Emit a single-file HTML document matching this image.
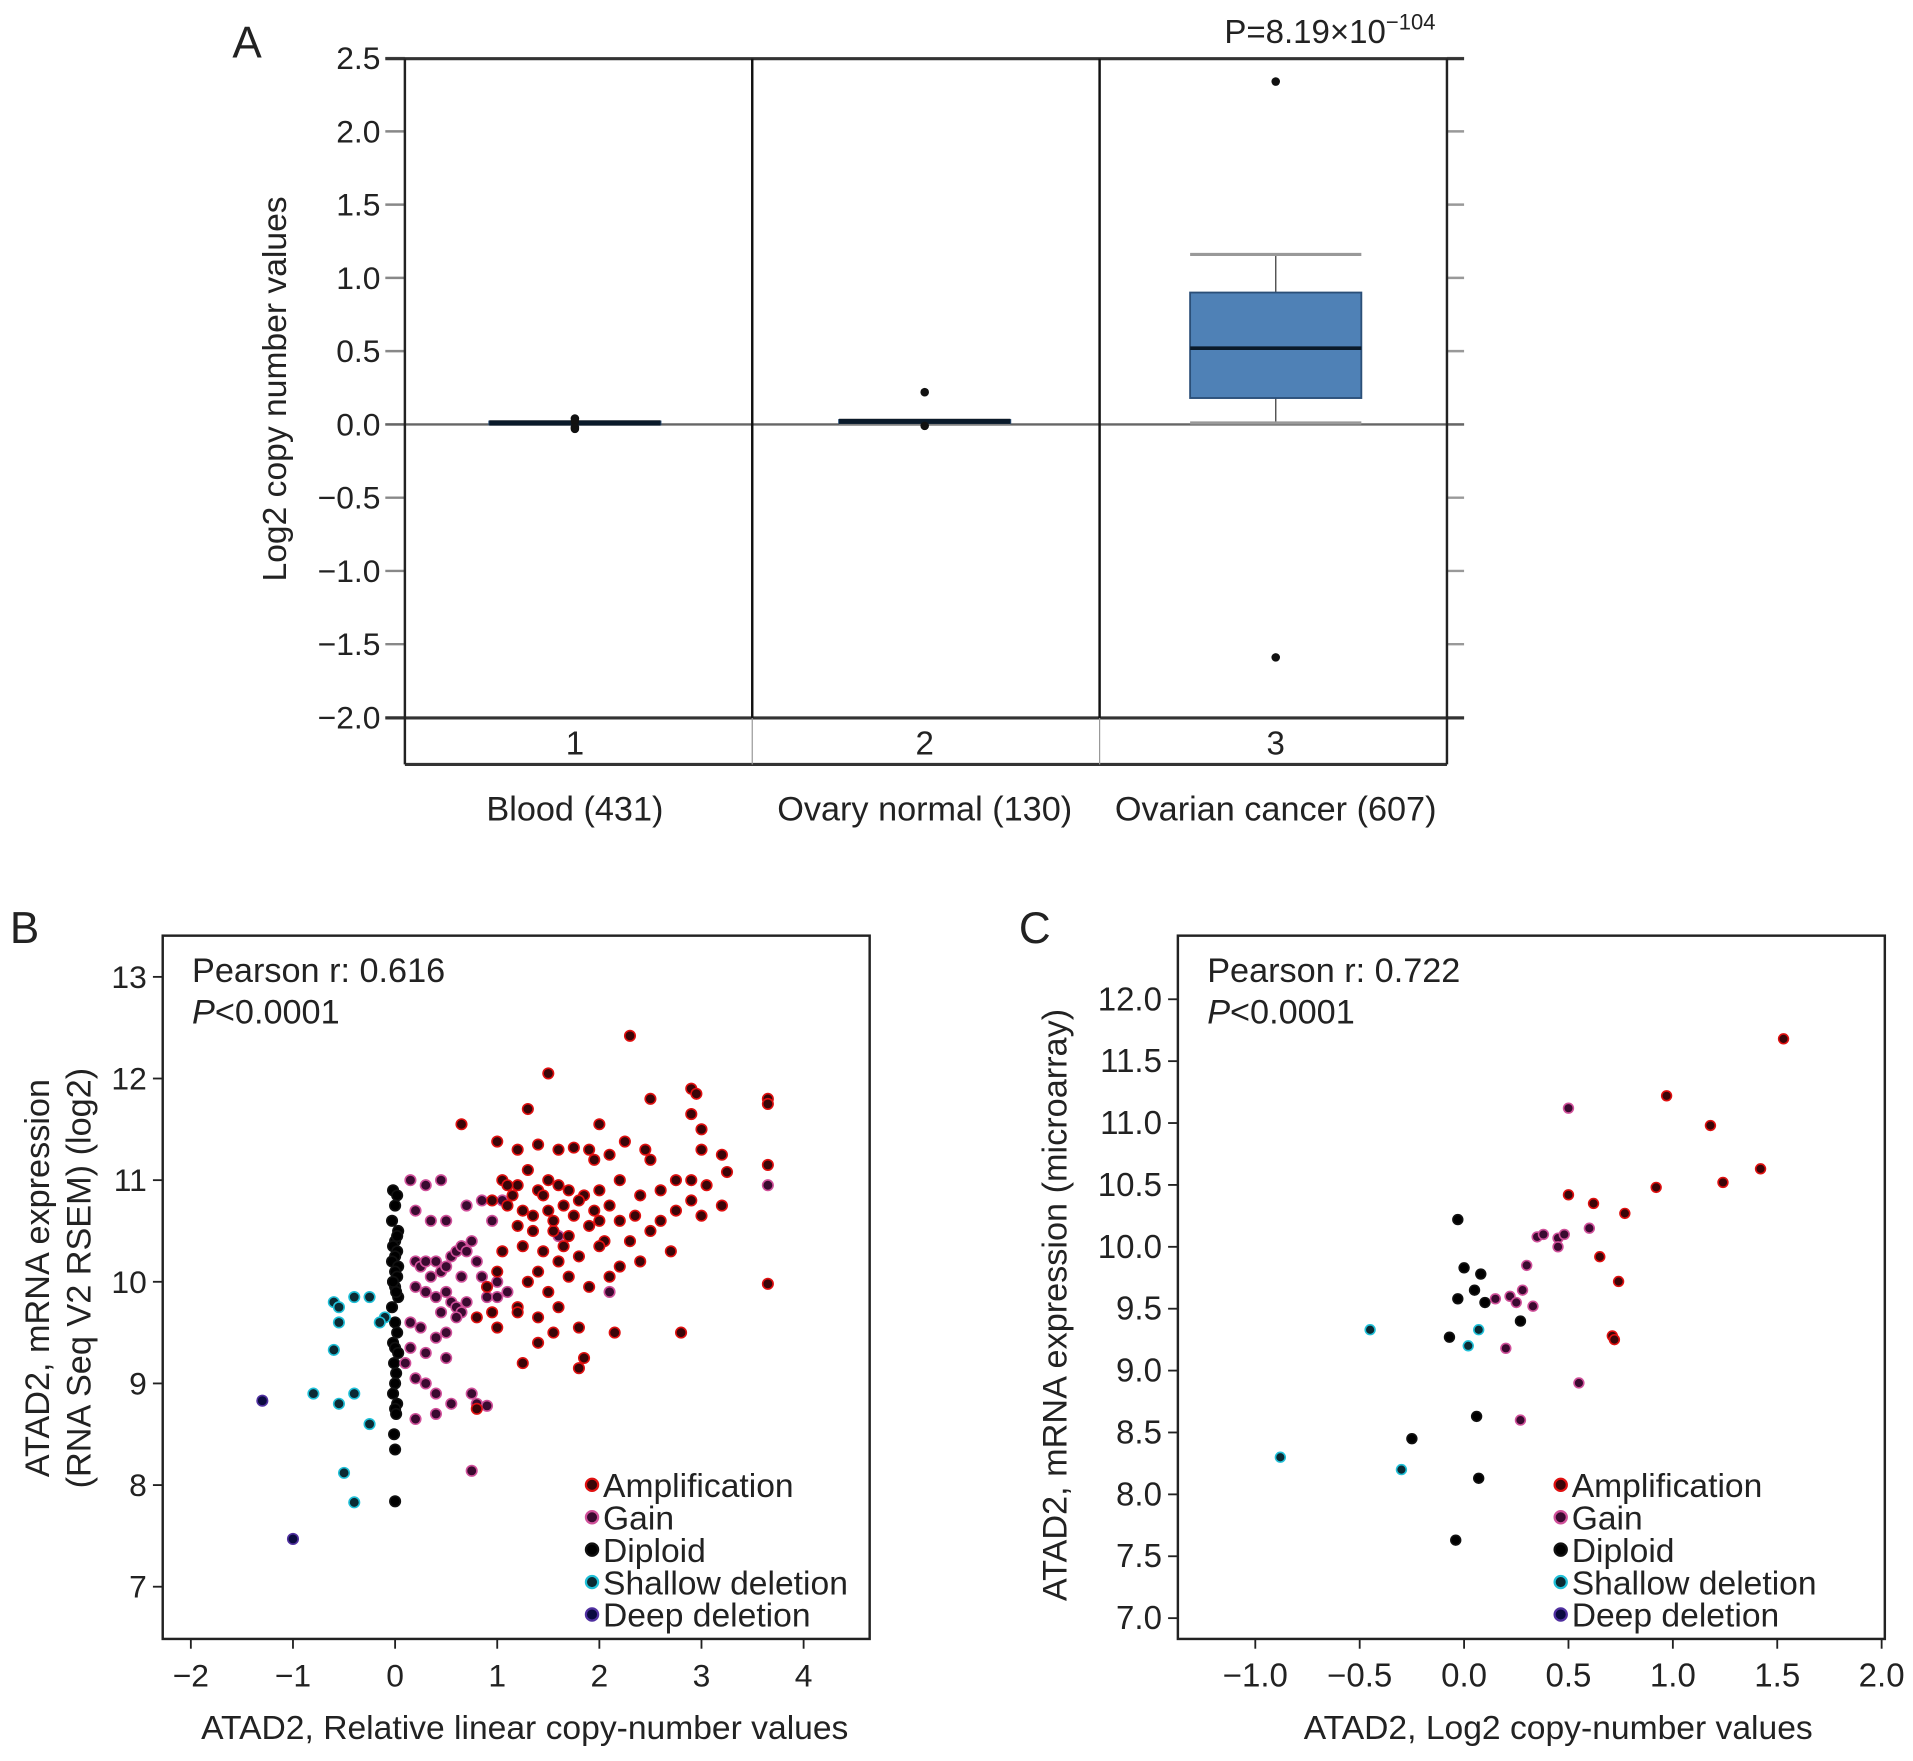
<!DOCTYPE html>
<html><head><meta charset="utf-8">
<style>
html,body{margin:0;padding:0;background:#fff;}
svg{display:block;}
text{font-family:"Liberation Sans",Arial,sans-serif;fill:#222;}
</style></head>
<body>
<svg id="fig" width="1913" height="1761" viewBox="0 0 1564 1439.8" xmlns="http://www.w3.org/2000/svg">
<g id="panelA"></g>
<g id="panelB"></g>
<g id="panelC"></g>
</svg>
<script>
// ---------- Panel A data ----------
const aCategories = ["Blood (431)", "Ovary normal (130)", "Ovarian cancer (607)"];
const aIndexLabels = ["1", "2", "3"];
const aQ1 = [0.0, 0.01, 0.18];
const aMedian = [0.01, 0.02, 0.52];
const aQ3 = [0.02, 0.03, 0.90];
const aWhiskerLow = [0.0, 0.01, 0.01];
const aWhiskerHigh = [0.02, 0.03, 1.16];
const aOutliers = [[0.04, -0.03, 0.02, -0.02], [0.22, -0.01], [2.34, -1.59]];
const aYTicks = [2.5, 2.0, 1.5, 1.0, 0.5, 0.0, -0.5, -1.0, -1.5, -2.0];

// ---------- Panel B data ----------
const bXTicks = [-2, -1, 0, 1, 2, 3, 4];
const bYTicks = [7, 8, 9, 10, 11, 12, 13];
const bDeepX = [-1.3, -1.0];
const bDeepY = [8.83, 7.47];
const bShallowX = [-0.6,-0.55,-0.4,-0.25,-0.55,-0.6,-0.1,-0.8,-0.55,-0.4,-0.25,-0.5,-0.4,-0.15];
const bShallowY = [9.8,9.75,9.85,9.85,9.6,9.33,9.65,8.9,8.8,8.9,8.6,8.12,7.83,9.6];
const bDiploidX = [-0.02,0.02,0,-0.03,0.03,0,-0.02,0.02,0,-0.03,0.03,0,0.02,-0.02,0,0.03,-0.03,0,0.02,-0.02,0,0.03,-0.01,0.01,0,-0.02,0.02,0,0.01,-0.01,0,0,0.02,-0.02,0.01];
const bDiploidY = [10.9,10.85,10.75,10.6,10.5,10.4,10.35,10.3,10.25,10.2,10.15,10.1,10.05,10.0,9.95,9.85,9.75,9.6,9.5,9.4,9.35,9.3,9.2,9.1,9.0,8.9,8.8,8.75,8.7,8.5,8.35,7.84,10.45,10.0,9.9];
const bGainX = [0.15,0.3,0.45,0.2,0.35,0.5,0.7,0.85,0.2,0.25,0.3,0.4,0.45,0.5,0.55,0.6,0.65,0.7,0.75,0.8,0.2,0.3,0.4,0.5,0.55,0.6,0.65,0.7,0.9,1.0,0.15,0.25,0.4,0.5,0.6,0.1,0.3,0.5,0.2,0.4,0.55,0.2,0.4,0.75,0.8,0.9,0.75,1.0,1.1,0.95,1.05,0.35,0.45,0.65,0.85,0.3,0.15,1.6,2.1,3.65];
const bGainY = [11.0,10.95,11.0,10.7,10.6,10.6,10.75,10.8,10.2,10.15,10.2,10.2,10.1,10.15,10.25,10.3,10.35,10.3,10.4,10.2,9.95,9.9,9.85,9.9,9.8,9.75,9.7,9.8,9.85,9.85,9.6,9.55,9.45,9.5,9.65,9.2,9.3,9.25,9.05,8.9,8.8,8.65,8.7,8.9,8.8,8.78,8.14,10.0,9.9,10.6,10.8,10.05,9.7,10.05,10.05,9.0,9.35,10.45,9.9,10.95];
const bAmpX = [2.3,1.5,1.3,0.65,1.0,1.2,1.4,1.6,1.75,1.9,2.1,2.25,2.45,2.5,1.05,1.2,1.3,1.4,1.5,1.6,1.7,1.85,2.0,2.2,1.1,1.25,1.35,1.5,1.65,1.8,1.95,2.1,2.4,1.2,1.35,1.55,1.7,1.9,2.05,2.3,2.5,1.05,1.25,1.45,1.6,1.8,2.0,2.2,2.4,1.0,1.3,1.5,1.7,1.9,2.1,0.9,1.2,1.4,1.6,0.8,1.0,1.2,0.95,1.4,1.55,1.8,2.15,2.8,1.8,1.85,1.25,0.8,2.9,2.95,2.9,3.0,3.0,3.2,3.25,2.9,2.9,2.75,3.0,3.2,3.65,3.65,3.65,3.65,2.5,2.0,2.6,2.7,3.05,2.75,1.95,2.35,1.45,1.15,1.55,2.0,2.2,2.6,1.75,1.4,1.65,0.95,1.1];
const bAmpY = [12.42,12.05,11.7,11.55,11.38,11.3,11.35,11.3,11.32,11.3,11.25,11.38,11.3,11.2,11.0,10.95,11.1,10.9,11.0,10.95,10.9,10.85,10.9,11.0,10.75,10.7,10.65,10.7,10.75,10.8,10.7,10.75,10.85,10.55,10.5,10.5,10.45,10.55,10.4,10.4,10.5,10.3,10.35,10.3,10.2,10.25,10.35,10.15,10.2,10.1,10.0,9.9,10.05,9.95,10.05,9.95,9.75,9.65,9.75,9.65,9.55,9.7,9.7,9.4,9.5,9.55,9.5,9.5,9.15,9.25,9.2,8.75,11.9,11.85,11.65,11.5,11.3,11.25,11.08,11.0,10.8,10.7,10.65,10.75,11.8,11.75,11.15,9.98,11.8,11.55,10.9,10.3,10.95,11.0,11.2,10.65,10.85,10.85,10.6,10.6,10.6,10.6,10.65,10.1,10.35,10.8,10.95];

// ---------- Panel C data ----------
const cXTicks = [-1.0, -0.5, 0.0, 0.5, 1.0, 1.5, 2.0];
const cYTicks = [7.0, 7.5, 8.0, 8.5, 9.0, 9.5, 10.0, 10.5, 11.0, 11.5, 12.0];
const cShallowX = [-0.88,-0.45,-0.3,0.02,0.07];
const cShallowY = [8.3,9.33,8.2,9.2,9.33];
const cDiploidX = [-0.03,0.0,0.08,-0.03,0.05,0.1,0.27,-0.07,0.06,-0.25,0.07,-0.04];
const cDiploidY = [10.22,9.83,9.78,9.58,9.65,9.55,9.4,9.27,8.63,8.45,8.13,7.63];
const cGainX = [0.3,0.35,0.38,0.45,0.48,0.45,0.22,0.25,0.28,0.33,0.2,0.55,0.27,0.5,0.6,0.15];
const cGainY = [9.85,10.08,10.1,10.07,10.1,10.0,9.6,9.55,9.65,9.52,9.18,8.9,8.6,11.12,10.15,9.58];
const cAmpX = [1.53,0.97,1.18,1.42,1.24,0.92,0.5,0.62,0.77,0.65,0.74,0.71,0.72];
const cAmpY = [11.68,11.22,10.98,10.63,10.52,10.48,10.42,10.35,10.27,9.92,9.72,9.28,9.25];

const legendLabels = ["Amplification","Gain","Diploid","Shallow deletion","Deep deletion"];
const legendFill = ["#3a0508","#3a0a30","#000000","#0b2a33","#0a0a40"];
const legendStroke = ["#e01010","#d0509a","#111111","#20c0d8","#5030a0"];

const NS = "http://www.w3.org/2000/svg";
function mk(parent, tag, attrs, txt){
  const e = document.createElementNS(NS, tag);
  for (const k in attrs) e.setAttribute(k, attrs[k]);
  if (txt !== undefined) e.textContent = txt;
  parent.appendChild(e);
  return e;
}

// ================= PANEL A =================
(function(){
  const g = document.getElementById('panelA');
  const L = 331, R = 1183, Top = 48, Bot = 587, Strip = 625;
  const yA = v => 347 - v * 119.8;
  const centers = [470, 756, 1043];
  const dividers = [615, 899];
  let t;
  t = mk(g,'text',{x:190,y:47,'font-size':36});
    t.textContent='A';
  t = mk(g,'text',{x:1001,y:35,'font-size':27});
   
  t.textContent='P=8.19×10';
  mk(t,'tspan',{dy:-11,'font-size':18},'−104');
  aYTicks.forEach(v=>{
    const y = yA(v);
    const l1 = mk(g,'line',{x1:315,x2:L,y1:y,y2:y,stroke:'#888','stroke-width':2});
     
    const l2 = mk(g,'line',{x1:R,x2:1197,y1:y,y2:y,stroke:'#999','stroke-width':2});
     
    const lb = mk(g,'text',{x:311,y:y+9,'font-size':26,'text-anchor':'end'}, (v<0?'−':'')+Math.abs(v).toFixed(1));
     
  });
  let ln;
  ln = mk(g,'line',{x1:315,x2:1197,y1:Top,y2:Top,stroke:'#333','stroke-width':2.5});  
  ln = mk(g,'line',{x1:315,x2:1197,y1:yA(0),y2:yA(0),stroke:'#666','stroke-width':2});  
  ln = mk(g,'line',{x1:315,x2:1197,y1:Bot,y2:Bot,stroke:'#333','stroke-width':2.5});  
  ln = mk(g,'line',{x1:L,x2:R,y1:Strip,y2:Strip,stroke:'#333','stroke-width':2.5});  
  ln = mk(g,'line',{x1:L,x2:L,y1:Top,y2:Strip,stroke:'#222','stroke-width':2});  
  ln = mk(g,'line',{x1:R,x2:R,y1:Top,y2:Strip,stroke:'#222','stroke-width':2});  
  dividers.forEach(x=>{
    const d = mk(g,'line',{x1:x,x2:x,y1:Top,y2:Bot,stroke:'#111','stroke-width':2});
     
    const d2 = mk(g,'line',{x1:x,x2:x,y1:Bot,y2:Strip,stroke:'#999','stroke-width':1});
     
  });
  t = mk(g,'text',{x:0,y:0,'font-size':27.5,'text-anchor':'middle',transform:'translate(234,318) rotate(-90)'},'Log2 copy number values');
   
  aCategories.forEach((c,i)=>{
    const cx = centers[i];
    const s = mk(g,'text',{x:cx,y:617,'font-size':27,'text-anchor':'middle'}, aIndexLabels[i]);
     
    const cl = mk(g,'text',{x:cx,y:671,'font-size':28,'text-anchor':'middle'}, c);
     
    const bw = 70;
    const grp = mk(g,'g',{});
     
    mk(grp,'line',{x1:cx,x2:cx,y1:yA(aWhiskerHigh[i]),y2:yA(aQ3[i]),stroke:'#555','stroke-width':1.2});
    mk(grp,'line',{x1:cx,x2:cx,y1:yA(aQ1[i]),y2:yA(aWhiskerLow[i]),stroke:'#555','stroke-width':1.2});
    mk(grp,'line',{x1:cx-bw,x2:cx+bw,y1:yA(aWhiskerHigh[i]),y2:yA(aWhiskerHigh[i]),stroke:'#999','stroke-width':2.5});
    mk(grp,'line',{x1:cx-bw,x2:cx+bw,y1:yA(aWhiskerLow[i]),y2:yA(aWhiskerLow[i]),stroke:'#999','stroke-width':2.5});
    const h = yA(aQ1[i]) - yA(aQ3[i]);
    mk(grp,'rect',{x:cx-bw,y:yA(aQ3[i]),width:bw*2,height:Math.max(h,1),fill:'#4f81b6',stroke:'#2b4f78','stroke-width':1.5});
    mk(grp,'line',{x1:cx-bw,x2:cx+bw,y1:yA(aMedian[i]),y2:yA(aMedian[i]),stroke:'#0a1a2a','stroke-width':h<5?4:3});
    aOutliers[i].forEach(v=>{
      const o = mk(grp,'circle',{cx:cx,cy:yA(v),r:3.5,fill:'#111'});
       
    });
  });
})();

// ============ scatter helper ============
function scatter(g, cfg){
  const {L,R,T,B,xs,ys,xTicks,yTicks,xFmt,yFmt,series,r,legX,title,ytitle,stats,panelLabel,plX} = cfg;
  let e;
  e = mk(g,'text',{x:plX,y:T+6,'font-size':36});   e.textContent=panelLabel;
  e = mk(g,'rect',{x:L,y:T,width:R-L,height:B-T,fill:'none',stroke:'#222','stroke-width':2});
   
  xTicks.forEach(v=>{
    const x = xs(v);
    const tk = mk(g,'line',{x1:x,x2:x,y1:B,y2:B+8,stroke:'#222','stroke-width':1.5});
     
    const lb = mk(g,'text',{x:x,y:B+39,'font-size':cfg.tickFont,'text-anchor':'middle'}, xFmt(v));
     
  });
  yTicks.forEach(v=>{
    const y = ys(v);
    const tk = mk(g,'line',{x1:L-8,x2:L,y1:y,y2:y,stroke:'#222','stroke-width':1.5});
     
    const lb = mk(g,'text',{x:L-13,y:y+9,'font-size':cfg.tickFont,'text-anchor':'end'}, yFmt(v));
     
  });
  e = mk(g,'text',{x:(L+R)/2+(cfg.titleShift||0),y:B+82,'font-size':27.5,'text-anchor':'middle'}, title);
   
  ytitle.forEach((ln,i)=>{
    const yt = mk(g,'text',{x:0,y:0,'font-size':28,'text-anchor':'middle',transform:`translate(${ln.x},${ln.y}) rotate(-90)`}, ln.t);
     
  });
  e = mk(g,'text',{x:L+24,y:T+38,'font-size':28},stats);
   
  e = mk(g,'text',{x:L+24,y:T+72,'font-size':28});
   
  mk(e,'tspan',{'font-style':'italic'},'P'); mk(e,'tspan',{},'<0.0001');
  series.forEach(s=>{
    const sg = mk(g,'g',{});
     
    s.x.forEach((xv,i)=>{
      const c = mk(sg,'circle',{cx:xs(xv),cy:ys(s.y[i]),r:r,fill:legendFill[s.idx],stroke:legendStroke[s.idx],'stroke-width':1.3});
       
    });
  });
  legendLabels.forEach((lab,i)=>{
    const y = 1214 + i*26.5;
    const lg = mk(g,'g',{});
     
    mk(lg,'circle',{cx:legX,cy:y,r:5,fill:legendFill[i],stroke:legendStroke[i],'stroke-width':1.8});
    mk(lg,'text',{x:legX+9,y:y+10,'font-size':27.5},lab);
  });
}

// ================= PANEL B =================
scatter(document.getElementById('panelB'),{
  L:133,R:711,T:765,B:1340, plX:8,panelLabel:'B', tickFont:26,
  xs:v=>323+v*83.5, ys:v=>1048-(v-10)*83.1,
  xTicks:bXTicks, yTicks:bYTicks,
  xFmt:v=>(v<0?'−':'')+Math.abs(v), yFmt:v=>String(v),
  r:4.3, legX:484, title:'ATAD2, Relative linear copy-number values', titleShift:7,
  ytitle:[{x:40,y:1045,t:'ATAD2, mRNA expression'},{x:74,y:1045,t:'(RNA Seq V2 RSEM) (log2)'}],
  stats:'Pearson r: 0.616',
  series:[
    {name:'diploid',idx:2,x:bDiploidX,y:bDiploidY},
    {name:'gain',idx:1,x:bGainX,y:bGainY},
    {name:'amplification',idx:0,x:bAmpX,y:bAmpY},
    {name:'shallow-deletion',idx:3,x:bShallowX,y:bShallowY},
    {name:'deep-deletion',idx:4,x:bDeepX,y:bDeepY}
  ]
});

// ================= PANEL C =================
scatter(document.getElementById('panelC'),{
  L:963,R:1541,T:765,B:1340, plX:833,panelLabel:'C', tickFont:27,
  xs:v=>1197+v*170.7, ys:v=>1323-(v-7)*101.2,
  xTicks:cXTicks, yTicks:cYTicks,
  xFmt:v=>(v<0?'−':'')+Math.abs(v).toFixed(1), yFmt:v=>v.toFixed(1),
  r:4, legX:1276, title:'ATAD2, Log2 copy-number values', titleShift:22,
  ytitle:[{x:872,y:1067,t:'ATAD2, mRNA expression (microarray)'}],
  stats:'Pearson r: 0.722',
  series:[
    {name:'diploid',idx:2,x:cDiploidX,y:cDiploidY},
    {name:'gain',idx:1,x:cGainX,y:cGainY},
    {name:'amplification',idx:0,x:cAmpX,y:cAmpY},
    {name:'shallow-deletion',idx:3,x:cShallowX,y:cShallowY}
  ]
});
</script>
</body></html>
